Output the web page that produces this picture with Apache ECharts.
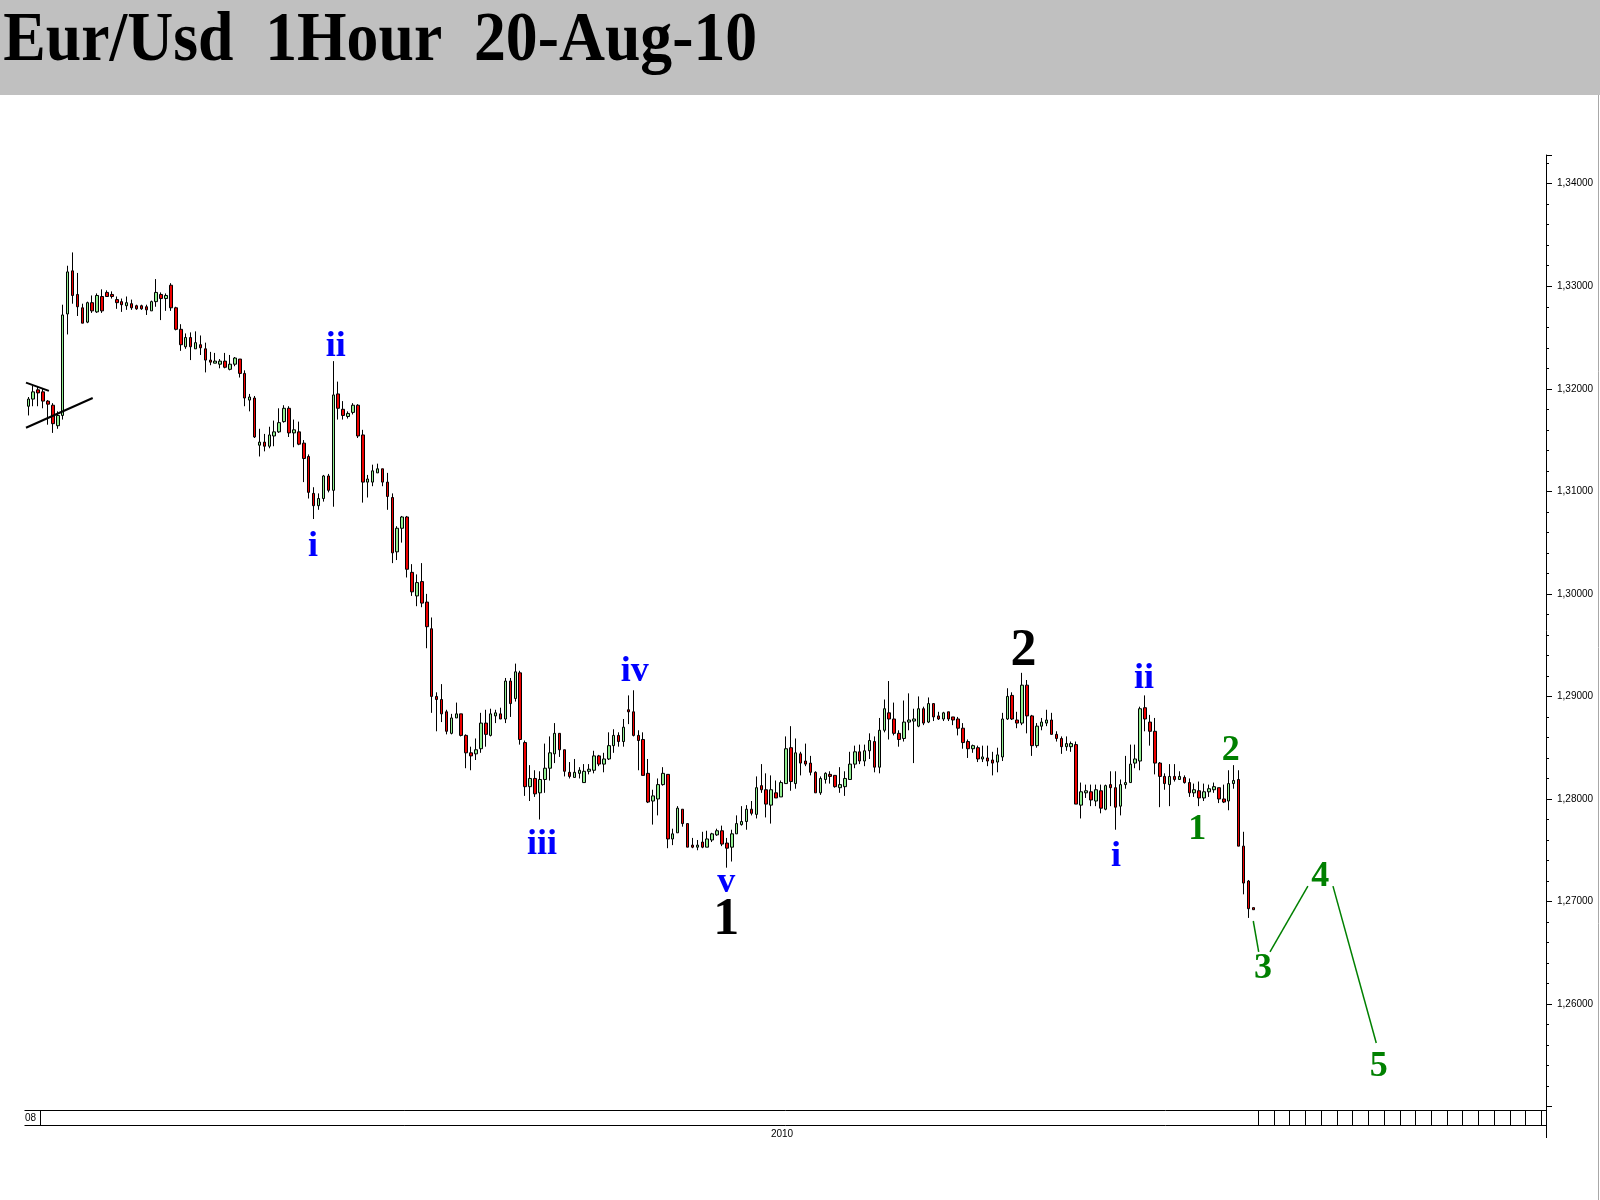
<!DOCTYPE html>
<html><head><meta charset="utf-8">
<script src="https://cdn.jsdelivr.net/npm/echarts@6/dist/echarts.min.js"></script>
<style>html,body{margin:0;padding:0;background:#fff}#c{width:1600px;height:1200px}</style>
</head><body><div id="c"></div><script>
// ---- data (hourly EUR/USD candles) ----
const OPEN = [1.3183,1.3190,1.3199,1.3197,1.3188,1.3184,1.3164,1.3174,1.3273,1.3315,
1.3292,1.3279,1.3265,1.3284,1.3275,1.3290,1.3294,1.3292,1.3287,1.3285,
1.3281,1.3283,1.3281,1.3281,1.3280,1.3276,1.3285,1.3292,1.3288,1.3301,
1.3279,1.3258,1.3241,1.3250,1.3239,1.3243,1.3239,1.3228,1.3225,1.3224,
1.3227,1.3219,1.3224,1.3229,1.3215,1.3189,1.3191,1.3145,1.3148,1.3144,
1.3154,1.3158,1.3168,1.3181,1.3157,1.3158,1.3147,1.3134,1.3098,1.3086,
1.3093,1.3115,1.3101,1.3195,1.3180,1.3173,1.3177,1.3184,1.3155,1.3109,
1.3109,1.3118,1.3122,1.3109,1.3094,1.3041,1.3064,1.3075,1.3021,1.2998,
1.3012,1.2992,1.2966,1.2900,1.2897,1.2885,1.2864,1.2879,1.2883,1.2862,
1.2845,1.2844,1.2849,1.2874,1.2862,1.2881,1.2883,1.2878,1.2915,1.2898,
1.2923,1.2855,1.2812,1.2820,1.2806,1.2819,1.2830,1.2844,1.2864,1.2848,
1.2826,1.2821,1.2825,1.2816,1.2827,1.2828,1.2842,1.2834,1.2839,1.2852,
1.2862,1.2856,1.2887,1.2885,1.2862,1.2858,1.2825,1.2798,1.2800,1.2814,
1.2824,1.2761,1.2767,1.2790,1.2776,1.2755,1.2753,1.2758,1.2753,1.2760,
1.2765,1.2769,1.2757,1.2753,1.2766,1.2775,1.2778,1.2790,1.2785,1.2813,
1.2809,1.2794,1.2806,1.2802,1.2815,1.2850,1.2815,1.2844,1.2837,1.2835,
1.2826,1.2806,1.2819,1.2824,1.2823,1.2811,1.2812,1.2819,1.2834,1.2846,
1.2837,1.2847,1.2856,1.2831,1.2867,1.2884,1.2878,1.2864,1.2859,1.2875,
1.2876,1.2871,1.2888,1.2875,1.2893,1.2881,1.2878,1.2885,1.2880,1.2878,
1.2869,1.2856,1.2849,1.2850,1.2839,1.2840,1.2838,1.2836,1.2841,1.2878,
1.2901,1.2877,1.2874,1.2911,1.2881,1.2852,1.2871,1.2874,1.2877,1.2863,
1.2859,1.2851,1.2851,1.2853,1.2794,1.2806,1.2807,1.2798,1.2808,1.2790,
1.2814,1.2811,1.2793,1.2814,1.2816,1.2835,1.2837,1.2889,1.2875,1.2866,
1.2835,1.2822,1.2814,1.2822,1.2819,1.2821,1.2816,1.2806,1.2808,1.2801,
1.2807,1.2809,1.2811,1.2800,1.2798,1.2815,1.2819,1.2754,1.2720,1.2694];
const HIGH = [1.3192,1.3203,1.3202,1.3200,1.3189,1.3186,1.3178,1.3282,1.3320,1.3333,
1.3313,1.3283,1.3285,1.3291,1.3293,1.3297,1.3296,1.3295,1.3290,1.3288,
1.3290,1.3287,1.3282,1.3282,1.3282,1.3286,1.3307,1.3294,1.3293,1.3303,
1.3280,1.3263,1.3254,1.3255,1.3256,1.3252,1.3245,1.3236,1.3235,1.3229,
1.3235,1.3233,1.3231,1.3229,1.3218,1.3195,1.3193,1.3161,1.3156,1.3163,
1.3169,1.3181,1.3184,1.3183,1.3170,1.3168,1.3150,1.3136,1.3104,1.3098,
1.3116,1.3117,1.3227,1.3207,1.3188,1.3178,1.3186,1.3185,1.3160,1.3116,
1.3126,1.3127,1.3122,1.3118,1.3098,1.3066,1.3076,1.3076,1.3029,1.3019,
1.3030,1.3000,1.2977,1.2904,1.2912,1.2887,1.2883,1.2894,1.2883,1.2863,
1.2851,1.2859,1.2884,1.2887,1.2888,1.2887,1.2889,1.2918,1.2918,1.2932,
1.2925,1.2857,1.2833,1.2828,1.2827,1.2854,1.2861,1.2874,1.2864,1.2848,
1.2836,1.2839,1.2831,1.2834,1.2834,1.2847,1.2843,1.2845,1.2865,1.2868,
1.2865,1.2878,1.2901,1.2906,1.2867,1.2865,1.2839,1.2809,1.2820,1.2831,
1.2824,1.2771,1.2793,1.2790,1.2776,1.2762,1.2760,1.2768,1.2769,1.2767,
1.2771,1.2774,1.2762,1.2770,1.2784,1.2793,1.2794,1.2798,1.2822,1.2834,
1.2825,1.2823,1.2818,1.2818,1.2861,1.2871,1.2859,1.2846,1.2854,1.2842,
1.2827,1.2822,1.2826,1.2827,1.2823,1.2831,1.2827,1.2846,1.2852,1.2853,
1.2853,1.2864,1.2861,1.2879,1.2897,1.2915,1.2894,1.2867,1.2896,1.2903,
1.2888,1.2900,1.2890,1.2899,1.2893,1.2885,1.2885,1.2885,1.2880,1.2880,
1.2874,1.2858,1.2853,1.2852,1.2852,1.2852,1.2846,1.2850,1.2884,1.2908,
1.2904,1.2885,1.2923,1.2916,1.2882,1.2874,1.2879,1.2887,1.2884,1.2866,
1.2861,1.2861,1.2856,1.2856,1.2816,1.2814,1.2814,1.2814,1.2814,1.2814,
1.2827,1.2827,1.2819,1.2842,1.2853,1.2853,1.2890,1.2901,1.2882,1.2879,
1.2836,1.2825,1.2834,1.2834,1.2827,1.2823,1.2820,1.2815,1.2817,1.2815,
1.2814,1.2816,1.2811,1.2814,1.2828,1.2833,1.2828,1.2768,1.2721,1.2694];
const LOW = [1.3174,1.3183,1.3183,1.3181,1.3165,1.3157,1.3161,1.3170,1.3253,1.3283,
1.3271,1.3264,1.3264,1.3274,1.3274,1.3274,1.3290,1.3288,1.3278,1.3275,
1.3277,1.3277,1.3277,1.3277,1.3272,1.3276,1.3280,1.3267,1.3276,1.3276,
1.3257,1.3237,1.3239,1.3228,1.3239,1.3233,1.3216,1.3223,1.3225,1.3220,
1.3220,1.3218,1.3222,1.3211,1.3183,1.3178,1.3152,1.3134,1.3139,1.3142,
1.3144,1.3157,1.3167,1.3153,1.3143,1.3145,1.3109,1.3093,1.3073,1.3082,
1.3090,1.3099,1.3085,1.3170,1.3170,1.3171,1.3175,1.3152,1.3089,1.3094,
1.3105,1.3118,1.3105,1.3082,1.3030,1.3033,1.3050,1.3016,1.2998,1.2988,
1.2987,1.2947,1.2884,1.2866,1.2875,1.2863,1.2863,1.2879,1.2861,1.2830,
1.2828,1.2838,1.2845,1.2851,1.2861,1.2874,1.2878,1.2874,1.2880,1.2895,
1.2853,1.2803,1.2798,1.2802,1.2780,1.2806,1.2818,1.2835,1.2841,1.2822,
1.2820,1.2821,1.2820,1.2816,1.2824,1.2825,1.2832,1.2826,1.2838,1.2845,
1.2851,1.2851,1.2873,1.2861,1.2828,1.2823,1.2796,1.2775,1.2784,1.2813,
1.2752,1.2755,1.2767,1.2773,1.2753,1.2752,1.2750,1.2752,1.2753,1.2758,
1.2764,1.2754,1.2733,1.2739,1.2766,1.2774,1.2770,1.2784,1.2781,1.2806,
1.2782,1.2776,1.2801,1.2802,1.2815,1.2808,1.2810,1.2823,1.2832,1.2823,
1.2806,1.2804,1.2815,1.2815,1.2811,1.2806,1.2803,1.2819,1.2830,1.2834,
1.2832,1.2839,1.2826,1.2825,1.2865,1.2858,1.2862,1.2851,1.2856,1.2867,
1.2835,1.2870,1.2872,1.2874,1.2876,1.2877,1.2876,1.2876,1.2872,1.2862,
1.2849,1.2840,1.2845,1.2836,1.2836,1.2832,1.2823,1.2826,1.2837,1.2877,
1.2877,1.2869,1.2872,1.2864,1.2842,1.2850,1.2867,1.2871,1.2863,1.2856,
1.2844,1.2847,1.2846,1.2795,1.2781,1.2801,1.2793,1.2793,1.2786,1.2789,
1.2793,1.2770,1.2784,1.2810,1.2816,1.2830,1.2828,1.2866,1.2852,1.2824,
1.2792,1.2809,1.2793,1.2817,1.2819,1.2815,1.2802,1.2802,1.2793,1.2798,
1.2802,1.2806,1.2796,1.2796,1.2789,1.2810,1.2754,1.2707,1.2684,1.2692];
const CLOSE = [1.3190,1.3197,1.3196,1.3188,1.3185,1.3166,1.3174,1.3272,1.3314,1.3291,
1.3280,1.3264,1.3284,1.3276,1.3291,1.3276,1.3290,1.3290,1.3284,1.3282,
1.3284,1.3279,1.3278,1.3278,1.3277,1.3285,1.3294,1.3288,1.3291,1.3279,
1.3258,1.3243,1.3250,1.3241,1.3245,1.3240,1.3228,1.3226,1.3227,1.3227,
1.3221,1.3224,1.3230,1.3215,1.3191,1.3192,1.3153,1.3148,1.3144,1.3155,
1.3158,1.3167,1.3181,1.3157,1.3160,1.3146,1.3132,1.3099,1.3086,1.3093,
1.3115,1.3101,1.3194,1.3181,1.3174,1.3176,1.3184,1.3154,1.3109,1.3112,
1.3120,1.3122,1.3109,1.3095,1.3040,1.3064,1.3075,1.3024,1.3002,1.3011,
1.2991,1.2968,1.2900,1.2897,1.2883,1.2866,1.2879,1.2883,1.2862,1.2845,
1.2842,1.2848,1.2874,1.2863,1.2883,1.2884,1.2878,1.2915,1.2893,1.2924,
1.2858,1.2812,1.2820,1.2805,1.2819,1.2830,1.2845,1.2864,1.2848,1.2827,
1.2822,1.2826,1.2828,1.2827,1.2829,1.2842,1.2834,1.2839,1.2852,1.2862,
1.2856,1.2870,1.2885,1.2862,1.2857,1.2823,1.2797,1.2803,1.2814,1.2825,
1.2761,1.2766,1.2791,1.2776,1.2753,1.2753,1.2755,1.2753,1.2761,1.2766,
1.2769,1.2756,1.2752,1.2766,1.2776,1.2778,1.2790,1.2786,1.2811,1.2809,
1.2795,1.2809,1.2801,1.2816,1.2849,1.2817,1.2845,1.2835,1.2834,1.2826,
1.2806,1.2820,1.2825,1.2822,1.2812,1.2814,1.2820,1.2834,1.2846,1.2837,
1.2847,1.2857,1.2831,1.2867,1.2888,1.2878,1.2864,1.2858,1.2875,1.2877,
1.2878,1.2888,1.2874,1.2893,1.2880,1.2878,1.2884,1.2878,1.2877,1.2869,
1.2855,1.2849,1.2852,1.2839,1.2841,1.2837,1.2835,1.2843,1.2878,1.2900,
1.2878,1.2874,1.2911,1.2881,1.2852,1.2871,1.2875,1.2877,1.2863,1.2859,
1.2851,1.2854,1.2854,1.2795,1.2807,1.2808,1.2799,1.2809,1.2791,1.2813,
1.2811,1.2792,1.2814,1.2816,1.2834,1.2839,1.2888,1.2878,1.2866,1.2835,
1.2822,1.2815,1.2822,1.2819,1.2822,1.2816,1.2806,1.2809,1.2801,1.2807,
1.2810,1.2812,1.2800,1.2797,1.2815,1.2818,1.2754,1.2718,1.2693,1.2692];

const TOTAL_SLOTS = 309;           // hourly slots on the time axis (incl. projected space)
const Y_TICK_INTERVAL = 0.01;
// hand-drawn wave projection (slot index, price)
const PROJ_SEG1 = [[249, 1.2681], [250.1, 1.2651]];
const PROJ_SEG2 = [[252.4, 1.2651], [260.1, 1.2715]];
const PROJ_SEG3 = [[265.2, 1.2715], [274.0, 1.2562]];
// triangle lines at the start
const TRI_UPPER = [[-0.46, 1.3206], [4.2, 1.3198]];
const TRI_LOWER = [[-0.46, 1.3162], [13.1, 1.3191]];
// wave labels: text, slot index, price, group
const WAVE_TEXT  = ['i','ii','iii','iv','v','1','2','i','ii','1','2','3','4','5'];
const WAVE_X     = [57.9,62.5,104.4,123.3,141.9,141.9,202.3,221.1,226.8,237.6,244.4,251.0,262.6,274.5];
const WAVE_Y     = [1.3049,1.3244,1.2758,1.2927,1.2721,1.2684,1.2947,1.2747,1.2920,1.2773,1.2850,1.2637,1.2727,1.2542];
const WAVE_GROUP = ['minor','minor','minor','minor','minor','major','major','minor','minor','minute','minute','minute','minute','minute'];

const slots = Array.from({length: TOTAL_SLOTS}, (_, i) => String(i));
const candles = OPEN.map((o, i) => [o, CLOSE[i], LOW[i], HIGH[i]]);
const groupStyle = {
  minor:  {color: '#0000ff', fontSize: 36},
  major:  {color: '#000000', fontSize: 52},
  minute: {color: '#008000', fontSize: 36}
};
const waveData = WAVE_TEXT.map((t, i) => ({
  value: [WAVE_X[i], WAVE_Y[i]],
  label: {formatter: t, color: groupStyle[WAVE_GROUP[i]].color, fontSize: groupStyle[WAVE_GROUP[i]].fontSize}
}));

const chart = echarts.init(document.getElementById('c'), null, {renderer: 'canvas'});

const graphics = [
  {type: 'rect', shape: {x: 0, y: 0, width: 1600, height: 95}, style: {fill: '#c0c0c0'}, z: 0},
  {type: 'text', x: 3, y: 42, scaleX: 0.91, originX: 3,
   style: {text: 'Eur/Usd  1Hour  20-Aug-10', font: 'bold 70px "Liberation Serif"', fill: '#000',
           align: 'left', verticalAlign: 'middle'}, z: 10},
  {type: 'line', shape: {x1: 24.5, y1: 1110.5, x2: 1546, y2: 1110.5}, style: {stroke: '#000', lineWidth: 1}},
  {type: 'line', shape: {x1: 24.5, y1: 1125.5, x2: 1546, y2: 1125.5}, style: {stroke: '#000', lineWidth: 1}},
  {type: 'line', shape: {x1: 40.5, y1: 1110.5, x2: 40.5, y2: 1125.5}, style: {stroke: '#000', lineWidth: 1}},
  {type: 'line', shape: {x1: 1546.5, y1: 1100, x2: 1546.5, y2: 1138}, style: {stroke: '#000', lineWidth: 1}},
  {type: 'line', shape: {x1: 1598.5, y1: 95, x2: 1598.5, y2: 1200}, style: {stroke: '#a8a8a8', lineWidth: 1}},
  {type: 'text', x: 25, y: 1118, style: {text: '08', font: '10px "Liberation Sans"', fill: '#000', align: 'left', verticalAlign: 'middle'}},
  {type: 'text', x: 782, y: 1134, style: {text: '2010', font: '10px "Liberation Sans"', fill: '#000', align: 'center', verticalAlign: 'middle'}}
];
for (let k = 0; k < 19; k++) {
  const x = Math.round(1258 + k * 15.73) + 0.5;
  graphics.push({type: 'line', shape: {x1: x, y1: 1110.5, x2: x, y2: 1125.5}, style: {stroke: '#000', lineWidth: 1}});
}

chart.setOption({
  animation: false,
  backgroundColor: '#ffffff',
  grid: {left: 25.8, right: 54, top: 155, bottom: 93.4, containLabel: false},
  xAxis: [
    {type: 'category', data: slots, boundaryGap: true,
     axisLine: {show: false}, axisTick: {show: false}, axisLabel: {show: false}, splitLine: {show: false}},
    {type: 'value', min: -0.5, max: TOTAL_SLOTS - 0.5, show: false}
  ],
  yAxis: {
    type: 'value', position: 'right', min: 1.25, max: 1.3428, interval: Y_TICK_INTERVAL, scale: true,
    axisLine: {show: true, onZero: false, lineStyle: {color: '#000', width: 1}},
    axisTick: {show: true, length: 6, lineStyle: {color: '#000'}},
    minorTick: {show: true, splitNumber: 5, length: 3, lineStyle: {color: '#000'}},
    splitLine: {show: false},
    axisLabel: {
      color: '#000', fontSize: 10, fontFamily: 'Liberation Sans', margin: 11, align: 'left', padding: [6, 0, 0, 0],
      formatter: v => {
        const k = v / Y_TICK_INTERVAL;
        if (Math.abs(k - Math.round(k)) > 1e-6 || v < 1.255) return '';
        return v.toFixed(5).replace('.', ',');
      }
    }
  },
  graphic: graphics,
  series: [
    {type: 'candlestick', data: candles, barWidth: 3,
     itemStyle: {color: '#90ee90', color0: '#ee0000', borderColor: '#000', borderColor0: '#000', borderWidth: 1}},
    {type: 'line', xAxisIndex: 1, data: TRI_UPPER, symbol: 'none', lineStyle: {color: '#000', width: 2}},
    {type: 'line', xAxisIndex: 1, data: TRI_LOWER, symbol: 'none', lineStyle: {color: '#000', width: 2}},
    {type: 'line', xAxisIndex: 1, data: PROJ_SEG1, symbol: 'none', lineStyle: {color: '#008000', width: 1.5}},
    {type: 'line', xAxisIndex: 1, data: PROJ_SEG2, symbol: 'none', lineStyle: {color: '#008000', width: 1.5}},
    {type: 'line', xAxisIndex: 1, data: PROJ_SEG3, symbol: 'none', lineStyle: {color: '#008000', width: 1.5}},
    {type: 'scatter', xAxisIndex: 1, data: waveData, symbolSize: 0, silent: true,
     itemStyle: {opacity: 1},
     label: {show: true, position: 'inside', offset: [0, 3], opacity: 1,
             fontFamily: 'Liberation Serif', fontWeight: 'bold'}}
  ]
});
</script></body></html>
